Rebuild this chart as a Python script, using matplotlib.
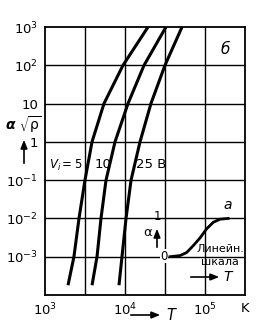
import matplotlib
matplotlib.use("Agg")
import matplotlib.pyplot as plt

plt.rcParams['font.family'] = ['Liberation Sans Narrow', 'DejaVu Sans']
plt.rcParams['mathtext.default'] = 'regular'

# ---- data ----
alpha_levels = [1.8e-4, 1e-3, 1e-2, 1e-1, 1, 10, 100, 1000]
T_v5 = [1940, 2300, 2660, 3160, 3870, 5460, 9440, 19400]
T_v10 = [3870, 4470, 5010, 5790, 7500, 10900, 17300, 32500]
T_v25 = [8410, 9170, 10300, 11900, 15400, 21100, 31600, 51600]

# curve "a" on linear alpha scale (0..1) mapped between 1e-3 and 1e-2
T_a = [36500, 48700, 59000, 71400, 86600, 105000, 127000, 154000, 195000]
alpha_a = [0.0, 0.03, 0.11, 0.29, 0.49, 0.73, 0.9, 0.98, 1.0]

x_ticks = [1e3, 1e4, 1e5, 10**5.5]
x_ticklabels = ['$10^3$', '$10^4$', '$10^5$', 'K']
y_ticks = [1e3, 1e2, 1e1, 1, 1e-1, 1e-2, 1e-3]
y_ticklabels = ['$10^3$', '$10^2$', '10', '1', '$10^{-1}$', '$10^{-2}$', '$10^{-3}$']
x_grid = [10**3.5, 1e4, 10**4.5, 1e5]

W, H = 260, 325
fig = plt.figure(figsize=(W / 100, H / 100), dpi=100)
ax = fig.add_axes([45 / W, 1 - 295 / H, 200 / W, 268 / H])
ax.set_xscale('log')
ax.set_yscale('log')
ax.set_xlim(1e3, 10**5.5)
ax.set_ylim(1e-4, 1e3)

for xv in x_grid:
    ax.axvline(xv, color='black', lw=1.0, zorder=1)
for yv in y_ticks[1:]:
    ax.axhline(yv, color='black', lw=1.0, zorder=1)

for Tv in (T_v5, T_v10, T_v25):
    ax.plot(Tv, alpha_levels, color='black', lw=2.2, solid_capstyle='butt',
            solid_joinstyle='round', zorder=3)

ax.plot(T_a, [10 ** (-3 + a) for a in alpha_a], color='black', lw=2.0,
        solid_joinstyle='round', zorder=3)

ax.set_xticks(x_ticks)
ax.set_xticklabels(x_ticklabels)
ax.set_yticks(y_ticks)
ax.set_yticklabels(y_ticklabels)
ax.minorticks_off()
ax.tick_params(length=0, labelsize=9.5, pad=5)
for s in ax.spines.values():
    s.set_linewidth(1.3)

def P(x, y):
    return (x / W, 1 - y / H)

tf = fig.transFigure
fs = 9.5
fig.text(*P(225, 50), 'б', transform=tf, fontsize=11, style='italic', ha='center', va='center')
fig.text(*P(82, 165), r'$\mathit{V_i}=5$', transform=tf, fontsize=8.5, ha='right', va='center')
fig.text(*P(103, 164), '10', transform=tf, fontsize=fs, ha='center', va='center')
fig.text(*P(151, 164), '25 В', transform=tf, fontsize=fs, ha='center', va='center')
fig.text(*P(228, 205), 'a', transform=tf, fontsize=10, style='italic', ha='center', va='center')
fig.text(*P(220, 249), 'Линейн.', transform=tf, fontsize=8, ha='center', va='center')
fig.text(*P(220, 262), 'шкала', transform=tf, fontsize=8, ha='center', va='center')
fig.text(*P(229, 277), '$\\mathit{T}$', transform=tf, fontsize=10, ha='center', va='center')
fig.text(*P(157, 216), '1', transform=tf, fontsize=8.5, ha='center', va='center')
fig.text(*P(164, 256), '0', transform=tf, fontsize=8.5, ha='center', va='center',
         bbox=dict(boxstyle='square,pad=0.05', fc='white', ec='none'))
fig.text(*P(148, 233), r'$\alpha$', transform=tf, fontsize=9.5, ha='center', va='center')
fig.text(*P(23, 125), r'$\boldsymbol{\alpha}\ \sqrt{\rho}$', transform=tf, fontsize=10, ha='center', va='center')
fig.text(*P(172, 315), '$\\mathit{T}$', transform=tf, fontsize=10.5, ha='center', va='center')

arrow = dict(arrowstyle='-|>,head_length=0.5,head_width=0.2', color='black', lw=1.2)
ax.annotate('', xy=P(157, 226), xytext=P(157, 250), xycoords=tf, textcoords=tf, arrowprops=arrow)
ax.annotate('', xy=P(222, 277), xytext=P(188, 277), xycoords=tf, textcoords=tf, arrowprops=arrow)
ax.annotate('', xy=P(24, 137), xytext=P(24, 166), xycoords=tf, textcoords=tf, arrowprops=arrow,
            annotation_clip=False)
ax.annotate('', xy=P(163, 315), xytext=P(128, 315), xycoords=tf, textcoords=tf, arrowprops=arrow,
            annotation_clip=False)

fig.savefig('out.png', dpi=100)
